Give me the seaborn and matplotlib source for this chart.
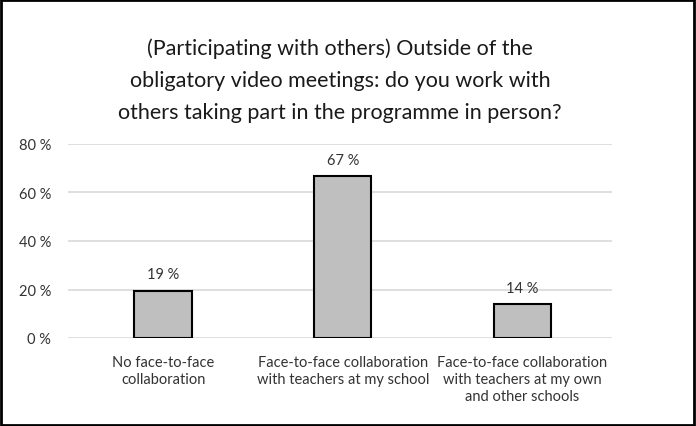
import matplotlib
matplotlib.use("Agg")
import matplotlib.pyplot as plt
import seaborn as sns
import pandas as pd
from matplotlib.patches import Rectangle

categories = ["No face-to-face\ncollaboration",
              "Face-to-face collaboration\nwith teachers at my school",
              "Face-to-face collaboration\nwith teachers at my own\nand other schools"]
values = [19.4, 66.7, 13.9]
value_labels = ["19 %", "67 %", "14 %"]
y_ticks = [0, 20, 40, 60, 80]
y_tick_labels = ["0 %", "20 %", "40 %", "60 %", "80 %"]
title = ("(Participating with others) Outside of the\n"
         "obligatory video meetings: do you work with\n"
         "others taking part in the programme in person?")

sns.set_style("white")
plt.rcParams['font.family'] = ['Lato', 'DejaVu Sans']

df = pd.DataFrame({"cat": categories, "val": values})

fig = plt.figure(figsize=(6.96, 4.27), dpi=100)
ax = fig.add_axes([68/696, 1-339/427, (612-68)/696, (339-145)/427])

sns.barplot(data=df, x="cat", y="val", ax=ax, color="#BFBFBF", saturation=1,
            edgecolor="black", linewidth=1.5, width=0.32, zorder=3)

ax.set_ylim(0, 80)
ax.set_xlim(-0.53, 2.5)
ax.set_yticks(y_ticks)
ax.set_yticklabels(y_tick_labels, fontsize=10.5, color="#333333")
ax.tick_params(axis="x", labelsize=10.5, colors="#333333", length=0, pad=12)
ax.tick_params(axis="y", length=0, pad=12)
for lbl in ax.get_xticklabels():
    lbl.set_linespacing(1.3)
ax.set_xlabel("")
ax.set_ylabel("")
ax.yaxis.grid(True, color="#D9D9D9", linewidth=1.2, zorder=0)
ax.set_axisbelow(True)
for s in ax.spines.values():
    s.set_visible(False)

for i, (v, lab) in enumerate(zip(values, value_labels)):
    ax.annotate(lab, (i, v), xytext=(0, 7), textcoords="offset points",
                ha="center", va="bottom", fontsize=10.5, color="#333333")

fig.text(340/696, 1-81/427, title, ha="center", va="center", fontsize=15.5,
         color="#1a1a1a", linespacing=1.75)

fig.add_artist(Rectangle((0.002, 0.003), 0.995, 0.994, transform=fig.transFigure,
                         fill=False, edgecolor="black", linewidth=2))

fig.savefig("out.png", dpi=100)
